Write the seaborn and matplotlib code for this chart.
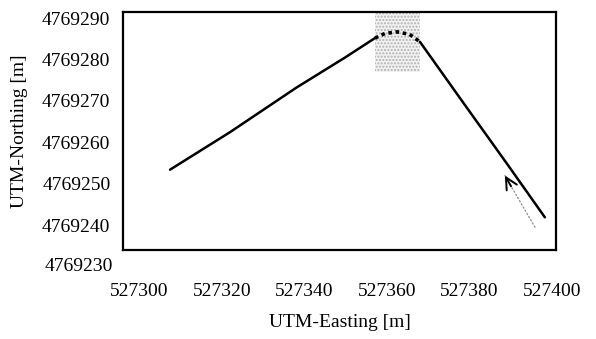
import matplotlib
matplotlib.use("Agg")
import matplotlib.pyplot as plt
import seaborn as sns

sns.set_theme(style="white")
plt.rcParams['font.family'] = ['Liberation Serif', 'DejaVu Serif']
plt.rcParams['text.color'] = 'black'
plt.rcParams['axes.labelcolor'] = 'black'

# Track: left leg, dotted arc, right leg
left_e = [527307.4, 527322.0, 527338.0, 527350.0, 527357.1]
left_n = [4769253.4, 4769262.5, 4769273.2, 4769280.6, 4769285.2]
arc_e = [527357.1, 527359.5, 527362.4, 527365.5, 527368.0]
arc_n = [4769285.2, 4769286.3, 4769286.7, 4769286.1, 4769284.3]
right_e = [527368.0, 527378.0, 527389.0, 527398.3]
right_n = [4769284.3, 4769270.3, 4769255.0, 4769241.9]
arrow_tail = (527395.9, 4769239.5)
arrow_head = (527388.6, 4769252.0)
shade_e = [527357.1, 527368.0]
shade_n = [4769277.0, 4769291.5]

x_ticks = [527300, 527320, 527340, 527360, 527380, 527400]
y_ticks = [4769240, 4769250, 4769260, 4769270, 4769280, 4769290]

fig = plt.figure(figsize=(5.96, 3.39), dpi=100)
ax = fig.add_axes([123/596, 1-250/339, (556-123)/596, (250-12)/339])

ax.fill_between(shade_e, shade_n[0], shade_n[1], facecolor='#f2f2f2',
                edgecolor='#b0b0b0', hatch='.....', linewidth=0)

sns.lineplot(x=left_e, y=left_n, sort=False, color='black', lw=1.8, ax=ax)
sns.lineplot(x=right_e, y=right_n, sort=False, color='black', lw=1.8, ax=ax)
sns.lineplot(x=arc_e, y=arc_n, sort=False, color='black', lw=2.6,
             linestyle=(0, (1, 1)), ax=ax)

ax.annotate('', xy=arrow_head, xytext=arrow_tail,
            arrowprops=dict(arrowstyle='-', color='#999999', lw=1.0,
                            linestyle=':', shrinkA=0, shrinkB=0))
ax.annotate('', xy=arrow_head, xytext=(arrow_head[0] + 1.5, arrow_head[1] - 2.6),
            arrowprops=dict(arrowstyle='->,head_length=0.6,head_width=0.3',
                            color='black', lw=1.4,
                            mutation_scale=14, shrinkA=0, shrinkB=0))

ax.set_xlim(527296, 527401)
ax.set_ylim(4769234, 4769291.5)
ax.set_xticks(x_ticks)
ax.set_xticklabels([str(v) for v in x_ticks])
ax.set_yticks(y_ticks)
ax.set_yticklabels([str(v) for v in y_ticks])
ax.tick_params(axis='y', length=0, labelsize=14, pad=9, colors='black')
ax.tick_params(axis='x', length=0, labelsize=14, pad=24, colors='black')
ax.text(-0.022, 4769230, '4769230', transform=ax.get_yaxis_transform(),
        ha='right', va='center', fontsize=14, color='black', clip_on=False)

for s in ax.spines.values():
    s.set_color('black')
    s.set_linewidth(1.6)

ax.set_xlabel('UTM-Easting [m]', fontsize=14, labelpad=10, color='black')
ax.set_ylabel('UTM-Northing [m]', fontsize=14, labelpad=10, color='black')

fig.savefig('out.png', dpi=100)
